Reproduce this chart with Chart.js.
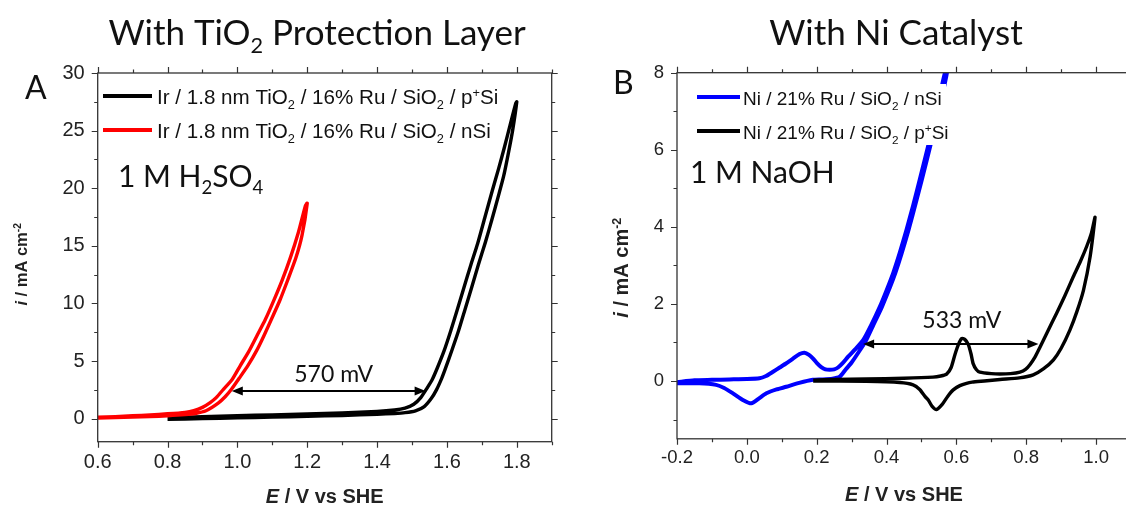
<!DOCTYPE html>
<html lang="en">
<head>
<meta charset="UTF-8">
<title>OER on Ru / SiO2 / Si photoanodes</title>
<script src="https://cdn.jsdelivr.net/npm/chart.js"></script>
<style>
  html, body { margin: 0; padding: 0; background: #fff; overflow: hidden; }
  body { width: 1126px; height: 506px; position: relative; }
  canvas { position: absolute; top: 0; }
  #chartA { left: 0; }
  #chartB { left: 563px; }
</style>
</head>
<body>
<canvas id="chartA" width="563" height="506"></canvas>
<canvas id="chartB" width="580" height="506"></canvas>
<script>
// ---------- panel A: with TiO2 protection layer, 1 M H2SO4 ----------
// p+Si : forward sweep 0.8 -> 1.8 V, then back
const aPpSiE = [0.80, 0.90, 1.00, 1.10, 1.20, 1.30, 1.40, 1.45, 1.48, 1.51, 1.535, 1.555, 1.57, 1.585, 1.595,
  1.615, 1.633, 1.652, 1.671, 1.69, 1.71, 1.729, 1.748, 1.762, 1.775, 1.788, 1.80,
  1.797, 1.781, 1.765, 1.748, 1.73, 1.709, 1.688, 1.668, 1.649, 1.63, 1.611, 1.592, 1.573, 1.558, 1.544, 1.525,
  1.505, 1.48, 1.45, 1.40, 1.30, 1.20, 1.10, 1.00, 0.90, 0.80];
const aPpSiI = [-0.05, 0.0, 0.07, 0.13, 0.2, 0.28, 0.38, 0.45, 0.52, 0.68, 1.05, 1.75, 2.5, 3.5, 4.3,
  6.0, 7.6, 9.5, 11.4, 13.35, 15.3, 17.3, 19.4, 21.0, 22.9, 25.0, 27.5,
  27.36, 25.5, 23.6, 21.7, 19.8, 17.5, 15.2, 13.3, 11.4, 9.5, 7.63, 5.9, 4.44, 3.4, 2.7, 1.83,
  1.25, 0.92, 0.75, 0.62, 0.5, 0.41, 0.33, 0.25, 0.16, 0.08];
// nSi : forward sweep 0.6 -> 1.2 V, then back
const aNSiE = [0.60, 0.65, 0.70, 0.75, 0.80, 0.85, 0.88, 0.91, 0.945, 0.965, 0.983, 1.005, 1.03, 1.055, 1.076,
  1.10, 1.122, 1.145, 1.168, 1.185, 1.20,
  1.195, 1.175, 1.152, 1.128, 1.104, 1.08, 1.056, 1.032, 1.008, 0.985, 0.96, 0.94, 0.922, 0.90, 0.875,
  0.85, 0.80, 0.75, 0.70, 0.65, 0.60];
const aNSiI = [0.05, 0.09, 0.13, 0.18, 0.25, 0.35, 0.45, 0.68, 1.35, 1.9, 2.55, 3.5, 4.6, 5.9, 7.2,
  8.8, 10.3, 12.1, 14.0, 15.9, 18.7,
  18.5, 16.2, 14.0, 12.0, 10.24, 8.6, 7.2, 5.8, 4.59, 3.4, 2.55, 1.85, 1.39, 0.98, 0.7,
  0.55, 0.42, 0.33, 0.25, 0.18, 0.12];
const aSeriesLabels = ['Ir / 1.8 nm TiO_2 / 16% Ru / SiO_2 / p^+Si', 'Ir / 1.8 nm TiO_2 / 16% Ru / SiO_2 / nSi'];
const aXTicks = [0.6, 0.8, 1.0, 1.2, 1.4, 1.6, 1.8];
const aXMinor = [0.7, 0.9, 1.1, 1.3, 1.5, 1.7, 1.9];
const aYTicks = [0, 5, 10, 15, 20, 25, 30];
const aYMinor = [2.5, 7.5, 12.5, 17.5, 22.5, 27.5];
const aGapE = [0.984, 1.539];   // arrow ends, V
const aGapI = 2.41;             // arrow height, mA cm-2
const aGapLabel = '570 mV';

// ---------- panel B: with Ni catalyst, 1 M NaOH ----------
const bNSiE = [-0.2, -0.15, -0.1, -0.05, 0.0, 0.036, 0.055, 0.075, 0.094, 0.113, 0.132, 0.151, 0.165, 0.178,
  0.189, 0.2, 0.213, 0.225, 0.237, 0.25, 0.261, 0.275, 0.29, 0.31, 0.333, 0.356, 0.381, 0.4, 0.419, 0.438,
  0.457, 0.476, 0.495, 0.519, 0.543, 0.567,
  0.573, 0.549, 0.525, 0.501, 0.463, 0.425, 0.387, 0.362, 0.34, 0.318, 0.3, 0.283, 0.266, 0.245, 0.215,
  0.189, 0.15, 0.113, 0.085, 0.056, 0.035, 0.013, -0.01, -0.04, -0.065, -0.088, -0.136, -0.2];
const bNSiI = [-0.03, 0.02, 0.03, 0.04, 0.05, 0.07, 0.13, 0.24, 0.35, 0.46, 0.58, 0.70, 0.735, 0.68,
  0.59, 0.47, 0.36, 0.3, 0.29, 0.3, 0.35, 0.47, 0.63, 0.82, 1.06, 1.45, 1.93, 2.35, 2.80, 3.33,
  3.92, 4.55, 5.22, 6.09, 7.0, 7.99,
  8.0, 7.0, 6.09, 5.22, 3.92, 2.80, 1.93, 1.45, 1.03, 0.72, 0.48, 0.3, 0.11, 0.06, 0.04,
  0.03, -0.05, -0.15, -0.22, -0.32, -0.45, -0.58, -0.5, -0.32, -0.18, -0.10, -0.06, -0.06];
const bPpSiE = [0.19, 0.25, 0.342, 0.45, 0.533, 0.555, 0.572, 0.585, 0.596, 0.606, 0.615, 0.624, 0.634, 0.642,
  0.648, 0.657, 0.667, 0.70, 0.725, 0.755, 0.782, 0.798, 0.811, 0.825, 0.839, 0.862, 0.887, 0.91, 0.935,
  0.955, 0.973, 0.987, 0.997,
  0.983, 0.964, 0.945, 0.925, 0.90, 0.878, 0.85, 0.82, 0.78, 0.725, 0.68, 0.645, 0.629, 0.61, 0.591,
  0.575, 0.56, 0.543, 0.53, 0.52, 0.51, 0.495, 0.476, 0.438, 0.342, 0.19];
const bPpSiI = [0.02, 0.04, 0.05, 0.07, 0.1, 0.13, 0.18, 0.35, 0.69, 0.95, 1.1, 1.08, 0.95, 0.7,
  0.45, 0.3, 0.23, 0.19, 0.18, 0.19, 0.23, 0.3, 0.43, 0.62, 0.87, 1.3, 1.76, 2.2, 2.71,
  3.1, 3.49, 3.85, 4.25,
  3.23, 2.36, 1.8, 1.32, 0.85, 0.55, 0.32, 0.16, 0.08, 0.04, 0.0, -0.03, -0.06, -0.12, -0.23,
  -0.4, -0.6, -0.74, -0.65, -0.5, -0.4, -0.22, -0.1, -0.04, -0.01, 0.0];
const bSeriesLabels = ['Ni / 21% Ru / SiO_2 / nSi', 'Ni / 21% Ru / SiO_2 / p^+Si'];
const bXTicks = [-0.2, 0.0, 0.2, 0.4, 0.6, 0.8, 1.0];
const bXMinor = [-0.1, 0.1, 0.3, 0.5, 0.7, 0.9, 1.1];
const bYTicks = [0, 2, 4, 6, 8];
const bYMinor = [-1, 1, 3, 5, 7];
const bGapE = [0.333, 0.835];
const bGapI = 0.96;
const bGapLabel = '533 mV';

const RED = '#ff0000', BLUE = '#0000ff', BLACK = '#000000';
const SANS = '"Liberation Sans", Arial, sans-serif';
const CAL = 'Lato, "Open Sans", sans-serif';

// tiny markup: _x or _{..} subscript, ^x or ^{..} superscript, *..* italic
function parseRich(s) {
  const out = [];
  const re = /([_^])(\{[^}]*\}|.)|\*([^*]+)\*|([^_^*]+)/g;
  let m;
  while ((m = re.exec(s))) {
    if (m[1]) out.push({t: m[2].replace(/[{}]/g, ''), mode: m[1] === '_' ? 'sub' : 'sup'});
    else if (m[3]) out.push({t: m[3], it: true});
    else out.push({t: m[4]});
  }
  return out;
}
function fontStr(f, p) {
  const size = p.mode ? f.size * 0.62 : f.size;
  return (p.it ? 'italic ' : '') + (f.weight || 'normal') + ' ' + size + 'px ' + f.family;
}
function drawRich(ctx, s, x, y, f, align) {
  const parts = parseRich(s);
  let w = 0;
  parts.forEach(p => { ctx.font = fontStr(f, p); w += ctx.measureText(p.t).width; });
  let cx = align === 'center' ? x - w / 2 : align === 'right' ? x - w : x;
  ctx.textAlign = 'left';
  ctx.textBaseline = 'alphabetic';
  parts.forEach(p => {
    ctx.font = fontStr(f, p);
    const dy = p.mode === 'sub' ? f.size * 0.24 : p.mode === 'sup' ? -f.size * 0.36 : 0;
    ctx.fillText(p.t, cx, y + dy);
    cx += ctx.measureText(p.t).width;
  });
  return w;
}
function arrowHead(ctx, tx, ty, dir) {
  ctx.beginPath();
  ctx.moveTo(tx, ty);
  ctx.lineTo(tx + dir * 11, ty - 4.5);
  ctx.lineTo(tx + dir * 11, ty + 4.5);
  ctx.closePath();
  ctx.fill();
}

// frame, outward ticks on all four sides, legend, notes and arrow
const decor = {
  id: 'decor',
  afterDatasetsDraw(chart, args, o) {
    const {ctx, chartArea: a, scales: {x, y}} = chart;
    ctx.save();

    // gap arrow
    const py = y.getPixelForValue(o.gap.at);
    const x0 = x.getPixelForValue(o.gap.e[0]), x1 = x.getPixelForValue(o.gap.e[1]);
    ctx.strokeStyle = '#000'; ctx.fillStyle = '#000'; ctx.lineWidth = 2;
    ctx.beginPath(); ctx.moveTo(x0 + 6, py); ctx.lineTo(x1 - 6, py); ctx.stroke();
    arrowHead(ctx, x0, py, 1);
    arrowHead(ctx, x1, py, -1);
    ctx.fillStyle = '#111';
    drawRich(ctx, o.gap.text, (x0 + x1) / 2 + o.gap.dx, py + o.gap.dy, {size: 23, family: CAL}, 'center');

    // legend (panel B's box hides the blue curve behind it)
    const L = o.legend;
    if (L.box) {
      ctx.fillStyle = '#fff';
      ctx.fillRect(L.box[0], L.box[1], L.box[2] - L.box[0], L.box[3] - L.box[1]);
    }
    L.items.forEach((it, k) => {
      const ly = L.y0 + k * L.dy;
      ctx.strokeStyle = it.color; ctx.lineWidth = 4;
      ctx.beginPath(); ctx.moveTo(L.x0, ly); ctx.lineTo(L.x1, ly); ctx.stroke();
      ctx.fillStyle = '#111';
      drawRich(ctx, it.text, L.tx, ly + L.base, {size: L.size, family: SANS}, 'left');
    });

    // electrolyte note
    ctx.fillStyle = '#111';
    drawRich(ctx, o.note.text, o.note.x, o.note.y, {size: 30, family: CAL}, 'left');

    // frame and ticks
    ctx.strokeStyle = '#333'; ctx.lineWidth = 1.3;
    ctx.strokeRect(a.left, a.top, a.right - a.left, a.bottom - a.top);
    ctx.lineWidth = 1.2;
    const xt = (vals, len) => vals.forEach(v => {
      const px = Math.round(x.getPixelForValue(v)) + 0.5;
      ctx.beginPath();
      ctx.moveTo(px, a.bottom); ctx.lineTo(px, a.bottom + len);
      ctx.moveTo(px, a.top); ctx.lineTo(px, a.top - len);
      ctx.stroke();
    });
    const yt = (vals, len) => vals.forEach(v => {
      const p = Math.round(y.getPixelForValue(v)) + 0.5;
      ctx.beginPath();
      ctx.moveTo(a.left, p); ctx.lineTo(a.left - len, p);
      ctx.moveTo(a.right, p); ctx.lineTo(a.right + len, p);
      ctx.stroke();
    });
    xt(o.xMajor, 6); xt(o.xMinor, 3.5);
    yt(o.yMajor, 6); yt(o.yMinor, 3.5);

    // titles, panel letter, axis titles
    ctx.fillStyle = '#111';
    drawRich(ctx, o.title.text, o.title.x, o.title.y, {size: 35, family: CAL}, 'center');
    drawRich(ctx, o.letter.text, o.letter.x, o.letter.y, {size: 32, family: CAL}, 'left');
    ctx.fillStyle = '#222';
    drawRich(ctx, '*E* / V vs SHE', (a.left + a.right) / 2, o.xTitleY, {size: 20, weight: 'bold', family: SANS}, 'center');
    ctx.translate(o.yTitleX, (a.top + a.bottom) / 2 + o.yTitleDy);
    ctx.rotate(-Math.PI / 2);
    drawRich(ctx, '*i* / mA cm^{-2}', 0, 0, {size: o.yTitleSize, weight: 'bold', family: SANS}, 'center');
    ctx.restore();
  }
};

function curve(E, I) { return E.map((e, k) => ({x: e, y: I[k]})); }

function makePanel(id, p) {
  new Chart(document.getElementById(id), {
    type: 'scatter',
    data: {datasets: p.datasets.map(d => ({
      data: d.data, borderColor: d.color, backgroundColor: d.color,
      showLine: true, pointRadius: 0, borderWidth: d.width, tension: 0.2
    }))},
    options: {
      responsive: false, animation: false, events: [],
      layout: {padding: {left: 0, top: p.top, right: p.right, bottom: 0}},
      scales: {
        x: {
          type: 'linear', min: p.xMin, max: p.xMax,
          afterBuildTicks: s => { s.ticks = p.xTicks.map(v => ({value: v})); },
          afterFit: s => { s.height = p.xAxisH; },
          grid: {display: false, drawTicks: false}, border: {display: false},
          ticks: {callback: v => v.toFixed(1), font: {size: p.tickSize, family: SANS}, color: '#222',
                  padding: p.xPad, maxRotation: 0, autoSkip: false}
        },
        y: {
          type: 'linear', min: p.yMin, max: p.yMax,
          afterBuildTicks: s => { s.ticks = p.yTicks.map(v => ({value: v})); },
          afterFit: s => { s.width = p.yAxisW; },
          grid: {display: false, drawTicks: false}, border: {display: false},
          ticks: {callback: v => String(v), font: {size: p.tickSize, family: SANS}, color: '#222',
                  padding: 13, autoSkip: false}
        }
      },
      plugins: {legend: {display: false}, tooltip: {enabled: false}, decor: p.decor}
    },
    plugins: [decor]
  });
}

makePanel('chartA', {
  datasets: [
    {data: curve(aNSiE, aNSiI), color: RED, width: 3.4},
    {data: curve(aPpSiE, aPpSiI), color: BLACK, width: 3.4}
  ],
  xMin: 0.6, xMax: 1.9, yMin: -2, yMax: 30,
  xTicks: aXTicks, yTicks: aYTicks, tickSize: 20, xPad: 9,
  top: 73, right: 11.3, yAxisW: 97.7, xAxisH: 64.3,
  decor: {
    xMajor: aXTicks, xMinor: aXMinor, yMajor: aYTicks, yMinor: aYMinor,
    gap: {e: aGapE, at: aGapI, text: aGapLabel, dx: 5, dy: -9},
    legend: {box: null, x0: 103, x1: 152, tx: 157, y0: 96, dy: 34, base: 8, size: 20.6,
             items: [{color: BLACK, text: aSeriesLabels[0]}, {color: RED, text: aSeriesLabels[1]}]},
    note: {text: '1 M H_2SO_4', x: 118, y: 187},
    title: {text: 'With TiO_2 Protection Layer', x: 317, y: 45},
    letter: {text: 'A', x: 25, y: 99},
    xTitleY: 503, yTitleX: 27, yTitleDy: 7, yTitleSize: 16.5
  }
});

makePanel('chartB', {
  datasets: [
    {data: curve(bPpSiE, bPpSiI), color: BLACK, width: 3.4},
    {data: curve(bNSiE, bNSiI), color: BLUE, width: 4}
  ],
  xMin: -0.2, xMax: 1.1, yMin: -1.5, yMax: 8,
  xTicks: bXTicks, yTicks: bYTicks, tickSize: 18.5, xPad: 8,
  top: 72.7, right: 12, yAxisW: 114, xAxisH: 67.2,
  decor: {
    xMajor: bXTicks, xMinor: bXMinor, yMajor: bYTicks, yMinor: bYMinor,
    gap: {e: bGapE, at: bGapI, text: bGapLabel, dx: 11, dy: -16},
    legend: {box: [130, 84, 383, 145], x0: 134, x1: 177, tx: 180, y0: 97, dy: 34, base: 8, size: 19,
             items: [{color: BLUE, text: bSeriesLabels[0]}, {color: BLACK, text: bSeriesLabels[1]}]},
    note: {text: '1 M NaOH', x: 127, y: 183},
    title: {text: 'With Ni Catalyst', x: 333, y: 45},
    letter: {text: 'B', x: 50, y: 94},
    xTitleY: 501, yTitleX: 65, yTitleDy: 12, yTitleSize: 20
  }
});
</script>
</body>
</html>
